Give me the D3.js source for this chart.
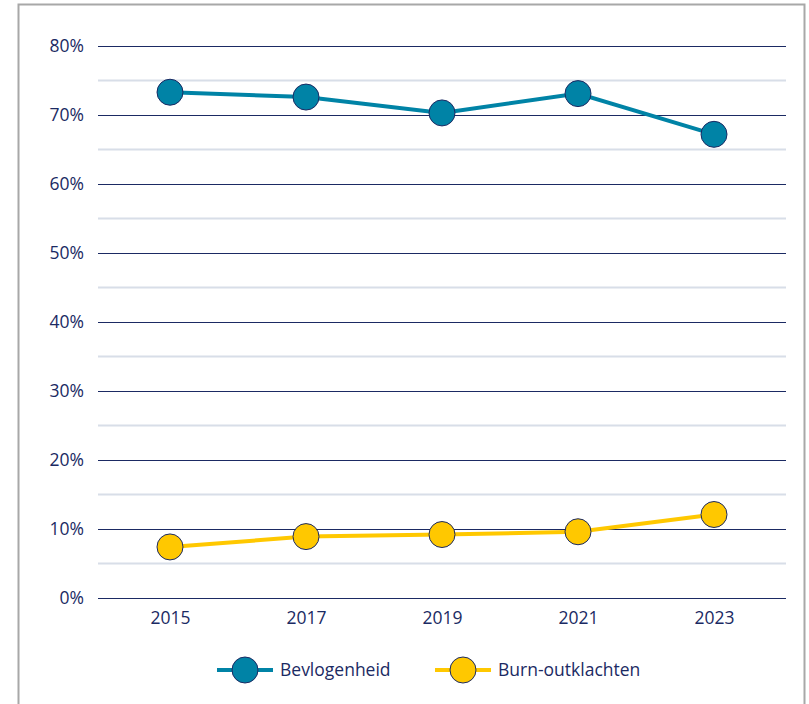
<!DOCTYPE html>
<html>
<head>
<meta charset="utf-8">
<script src="https://cdn.jsdelivr.net/npm/d3@7"></script>
<style>
    body { margin: 0; background: #fff; }
    svg text { font-family: "Open Sans", "Noto Sans", sans-serif; fill: #1b2a63; }
</style>
</head>
<body>
<svg width="809" height="704"></svg>
<script>
var years = ["2015", "2017", "2019", "2021", "2023"];
var bevlogenheid = [73.3, 72.6, 70.3, 73.1, 67.2];
var burnout = [7.4, 8.9, 9.2, 9.6, 12.1];
var yTicks = [0, 10, 20, 30, 40, 50, 60, 70, 80];
var seriesNames = ["Bevlogenheid", "Burn-outklachten"];

var svg = d3.select("svg"),
    margin = {top: 46, right: 23, bottom: 106, left: 98},
    width = +svg.attr("width") - margin.left - margin.right,
    height = +svg.attr("height") - margin.top - margin.bottom;

var colors = ["#0083a6", "#ffc800"];
var navy = "#1b2a63";

// frame
svg.append("path")
    .attr("d", "M18.5,704 V4.5 H804.5 V704")
    .attr("fill", "none")
    .attr("stroke", "#a8a8a8")
    .attr("stroke-width", 2);

var g = svg.append("g").attr("transform", "translate(" + margin.left + "," + margin.top + ")");

var x = d3.scalePoint()
    .domain(years)
    .range([4, width - 4])
    .padding(0.5);

var y = d3.scaleLinear()
    .domain([0, 80])
    .range([height, 0]);

// minor gridlines
g.append("g")
    .selectAll("line")
    .data(d3.range(5, 80, 10))
    .enter().append("line")
    .attr("x1", 0).attr("x2", width)
    .attr("y1", function (d) { return y(d); })
    .attr("y2", function (d) { return y(d); })
    .attr("stroke", "#d8dee8")
    .attr("stroke-width", 1.8);

// major gridlines + labels
var yAxis = g.append("g")
    .call(d3.axisLeft(y).tickValues(yTicks).tickSize(-width).tickPadding(14)
        .tickFormat(function (d) { return d + "%"; }));
yAxis.select(".domain").remove();
yAxis.selectAll(".tick line").attr("stroke", navy).attr("stroke-width", 1.2);
yAxis.selectAll(".tick text").attr("font-size", 17.5).style("fill", navy);

var xAxis = g.append("g")
    .attr("transform", "translate(0," + height + ")")
    .call(d3.axisBottom(x).tickSize(0).tickPadding(14));
xAxis.select(".domain").remove();
xAxis.selectAll(".tick text").attr("font-size", 17.5).style("fill", navy);

var line = d3.line()
    .x(function (d, i) { return x(years[i]); })
    .y(function (d) { return y(d); });

[bevlogenheid, burnout].forEach(function (data, k) {
    g.append("path")
        .datum(data)
        .attr("fill", "none")
        .attr("stroke", colors[k])
        .attr("stroke-width", 4)
        .attr("d", line);

    g.selectAll(".dot" + k)
        .data(data)
        .enter().append("circle")
        .attr("class", "dot" + k)
        .attr("cx", function (d, i) { return x(years[i]); })
        .attr("cy", function (d) { return y(d); })
        .attr("r", 13)
        .attr("fill", colors[k])
        .attr("stroke", navy)
        .attr("stroke-width", 1);
});

// legend
var legend = svg.append("g").attr("transform", "translate(0,670)");
var legendX = [217, 435];
seriesNames.forEach(function (name, k) {
    var lg = legend.append("g").attr("transform", "translate(" + legendX[k] + ",0)");
    lg.append("line")
        .attr("x1", 0).attr("x2", 56)
        .attr("stroke", colors[k])
        .attr("stroke-width", 4);
    lg.append("circle")
        .attr("cx", 28).attr("r", 13)
        .attr("fill", colors[k])
        .attr("stroke", navy)
        .attr("stroke-width", 1);
    lg.append("text")
        .attr("x", 63)
        .attr("dy", "0.35em")
        .attr("font-size", 17.5)
        .text(name);
});
</script>
</body>
</html>
